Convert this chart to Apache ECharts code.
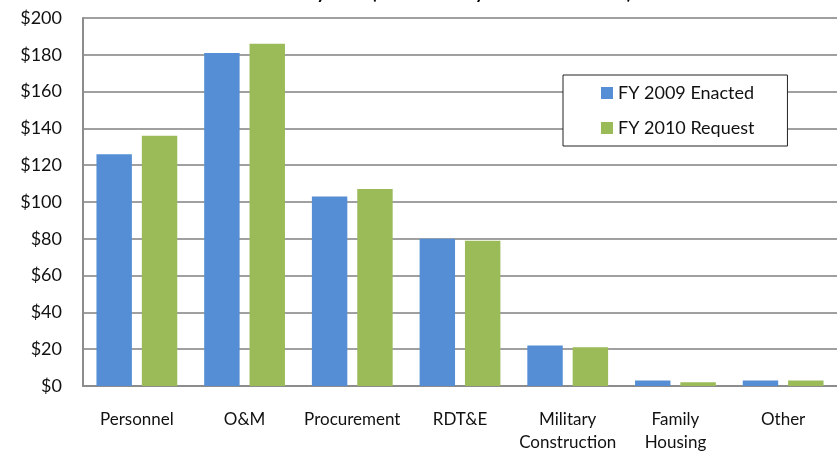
<!DOCTYPE html>
<html>
<head>
    <meta charset="utf-8">
</head>
<body style="margin:0">

<div id="main" style="width: 837px;height:452px;"></div>
<script src="https://cdn.jsdelivr.net/npm/echarts@6/dist/echarts.min.js"></script>
<script type="text/javascript">
    var categories = ['Personnel', 'O&M', 'Procurement', 'RDT&E', 'Military\nConstruction', 'Family\nHousing', 'Other'];
    var fy2009 = [126, 181, 103, 80, 22, 3, 3];
    var fy2010 = [136, 186, 107, 79, 21, 2, 3];
    var seriesNames = ['FY 2009 Enacted', 'FY 2010 Request'];

    var font = 'Lato, "Open Sans", sans-serif';

    var option = {
        animation: false,
        title: {
            // mostly cut off at the top edge, as in the picture
            text: '{b|DoD Base Amounts by Title} {n|(Discretionary Dollars in Billions)}',
            left: 140,
            top: -21,
            textStyle: {
                rich: {
                    b: { fontFamily: font, fontSize: 18, fontWeight: 'bold', color: '#000' },
                    n: { fontFamily: font, fontSize: 18, color: '#000' }
                }
            }
        },
        legend: {
            data: seriesNames,
            orient: 'vertical',
            left: 563,
            top: 75,
            padding: [9, 33, 9, 38],
            itemGap: 17,
            itemWidth: 12,
            itemHeight: 12,
            icon: 'rect',
            borderColor: '#222',
            borderWidth: 1,
            backgroundColor: '#fff',
            textStyle: { fontFamily: font, fontSize: 18, color: '#111' }
        },
        grid: {
            left: 83,
            right: 0,
            top: 18,
            bottom: 66,
            outerBoundsMode: 'none'
        },
        xAxis: {
            type: 'category',
            data: categories,
            axisLine: { lineStyle: { color: '#8c8c8c', width: 2 } },
            axisTick: { show: false },
            axisLabel: {
                fontFamily: font,
                fontSize: 17,
                color: '#111',
                margin: 22,
                lineHeight: 23,
                interval: 0
            }
        },
        yAxis: {
            type: 'value',
            min: 0,
            max: 200,
            interval: 20,
            axisLine: { show: true, lineStyle: { color: '#8c8c8c', width: 2 } },
            axisTick: { show: false },
            splitLine: { lineStyle: { color: '#a0a0a0', width: 2 } },
            axisLabel: {
                fontFamily: font,
                fontSize: 18,
                color: '#111',
                margin: 21,
                formatter: '${value}'
            }
        },
        series: [
            {
                name: seriesNames[0],
                type: 'bar',
                data: fy2009,
                barGap: '28%',
                barCategoryGap: '25%',
                itemStyle: { color: '#558ed5' }
            },
            {
                name: seriesNames[1],
                type: 'bar',
                data: fy2010,
                itemStyle: { color: '#9bbb59' }
            }
        ]
    };
    var myChart = echarts.init(document.getElementById('main'));
    myChart.setOption(option);
</script>
</body>
</html>
